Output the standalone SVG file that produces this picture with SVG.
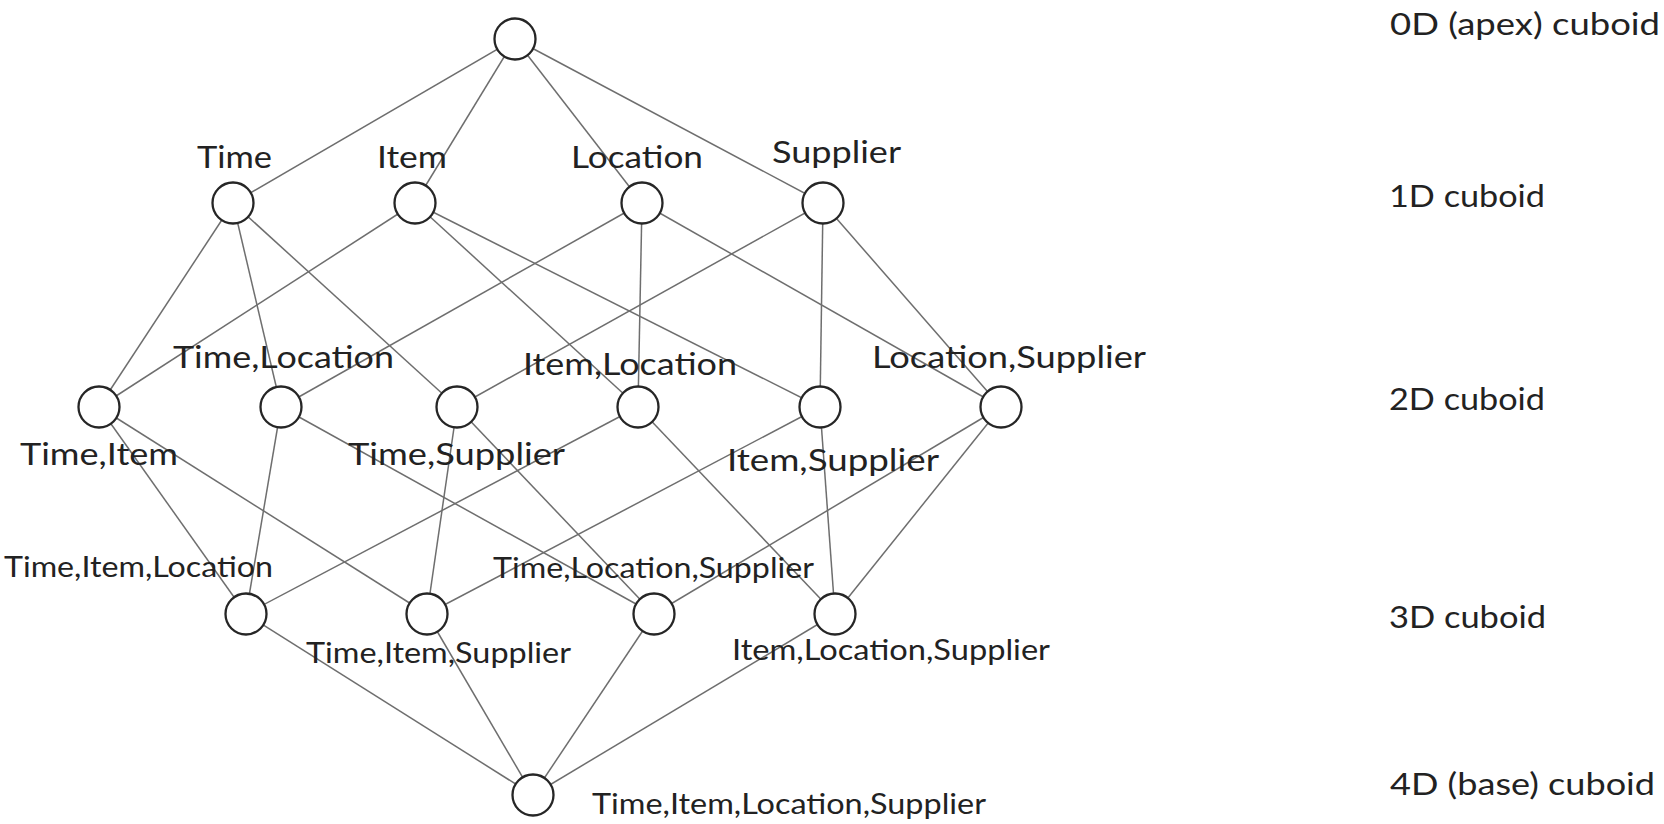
<svg xmlns="http://www.w3.org/2000/svg" width="1664" height="824" viewBox="0 0 1664 824">
<style>
.e{stroke:#6e6e6e;stroke-width:1.5;fill:none}
.n{fill:#fff;stroke:#262626;stroke-width:2.3}
.t{font-family:Lato,"Open Sans",sans-serif;fill:#222;font-size:31px}
.s{font-size:28px}
</style>
<rect width="1664" height="824" fill="#fff"/>
<g id="connectors" class="e">
<line x1="515" y1="39" x2="233" y2="203"/>
<line x1="515" y1="39" x2="415" y2="203"/>
<line x1="515" y1="39" x2="642" y2="203"/>
<line x1="515" y1="39" x2="823" y2="203"/>
<line x1="233" y1="203" x2="99" y2="407"/>
<line x1="233" y1="203" x2="281" y2="407"/>
<line x1="233" y1="203" x2="457" y2="407"/>
<line x1="415" y1="203" x2="99" y2="407"/>
<line x1="415" y1="203" x2="638" y2="407"/>
<line x1="415" y1="203" x2="820" y2="407"/>
<line x1="642" y1="203" x2="281" y2="407"/>
<line x1="642" y1="203" x2="638" y2="407"/>
<line x1="642" y1="203" x2="1001" y2="407"/>
<line x1="823" y1="203" x2="457" y2="407"/>
<line x1="823" y1="203" x2="820" y2="407"/>
<line x1="823" y1="203" x2="1001" y2="407"/>
<line x1="246" y1="614" x2="99" y2="407"/>
<line x1="246" y1="614" x2="281" y2="407"/>
<line x1="246" y1="614" x2="638" y2="407"/>
<line x1="427" y1="614" x2="99" y2="407"/>
<line x1="427" y1="614" x2="457" y2="407"/>
<line x1="427" y1="614" x2="820" y2="407"/>
<line x1="654" y1="614" x2="281" y2="407"/>
<line x1="654" y1="614" x2="457" y2="407"/>
<line x1="654" y1="614" x2="1001" y2="407"/>
<line x1="835" y1="614" x2="638" y2="407"/>
<line x1="835" y1="614" x2="820" y2="407"/>
<line x1="835" y1="614" x2="1001" y2="407"/>
<line x1="533" y1="795" x2="246" y2="614"/>
<line x1="533" y1="795" x2="427" y2="614"/>
<line x1="533" y1="795" x2="654" y2="614"/>
<line x1="533" y1="795" x2="835" y2="614"/>
</g>
<g id="apex"><circle class="n" cx="515" cy="39" r="20.5"/></g>
<g id="time"><circle class="n" cx="233" cy="203" r="20.5"/><text class="t" x="197" y="168" textLength="75" lengthAdjust="spacingAndGlyphs">Time</text></g>
<g id="item"><circle class="n" cx="415" cy="203" r="20.5"/><text class="t" x="377" y="168" textLength="70" lengthAdjust="spacingAndGlyphs">Item</text></g>
<g id="location"><circle class="n" cx="642" cy="203" r="20.5"/><text class="t" x="571" y="168" textLength="132" lengthAdjust="spacingAndGlyphs">Location</text></g>
<g id="supplier"><circle class="n" cx="823" cy="203" r="20.5"/><text class="t" x="772" y="163" textLength="129" lengthAdjust="spacingAndGlyphs">Supplier</text></g>
<g id="time-item"><circle class="n" cx="99" cy="407" r="20.5"/><text class="t" x="20" y="465" textLength="158" lengthAdjust="spacingAndGlyphs">Time,Item</text></g>
<g id="time-location"><circle class="n" cx="281" cy="407" r="20.5"/><text class="t" x="173" y="368" textLength="221" lengthAdjust="spacingAndGlyphs">Time,Location</text></g>
<g id="time-supplier"><circle class="n" cx="457" cy="407" r="20.5"/><text class="t" x="348" y="465" textLength="217" lengthAdjust="spacingAndGlyphs">Time,Supplier</text></g>
<g id="item-location"><circle class="n" cx="638" cy="407" r="20.5"/><text class="t" x="523" y="375" textLength="214" lengthAdjust="spacingAndGlyphs">Item,Location</text></g>
<g id="item-supplier"><circle class="n" cx="820" cy="407" r="20.5"/><text class="t" x="727" y="471" textLength="212" lengthAdjust="spacingAndGlyphs">Item,Supplier</text></g>
<g id="location-supplier"><circle class="n" cx="1001" cy="407" r="20.5"/><text class="t" x="872" y="368" textLength="274" lengthAdjust="spacingAndGlyphs">Location,Supplier</text></g>
<g id="time-item-location"><circle class="n" cx="246" cy="614" r="20.5"/><text class="t s" x="4" y="577" textLength="269" lengthAdjust="spacingAndGlyphs">Time,Item,Location</text></g>
<g id="time-item-supplier"><circle class="n" cx="427" cy="614" r="20.5"/><text class="t s" x="306" y="663" textLength="265" lengthAdjust="spacingAndGlyphs">Time,Item,Supplier</text></g>
<g id="time-location-supplier"><circle class="n" cx="654" cy="614" r="20.5"/><text class="t s" x="493" y="578" textLength="321" lengthAdjust="spacingAndGlyphs">Time,Location,Supplier</text></g>
<g id="item-location-supplier"><circle class="n" cx="835" cy="614" r="20.5"/><text class="t s" x="732" y="660" textLength="318" lengthAdjust="spacingAndGlyphs">Item,Location,Supplier</text></g>
<g id="base"><circle class="n" cx="533" cy="795" r="20.5"/><text class="t s" x="592" y="814" textLength="394" lengthAdjust="spacingAndGlyphs">Time,Item,Location,Supplier</text></g>
<g id="levels">
<text class="t" x="1390" y="35" textLength="270" lengthAdjust="spacingAndGlyphs">0D (apex) cuboid</text>
<text class="t" x="1389" y="207" textLength="156" lengthAdjust="spacingAndGlyphs">1D cuboid</text>
<text class="t" x="1389" y="410" textLength="156" lengthAdjust="spacingAndGlyphs">2D cuboid</text>
<text class="t" x="1389" y="628" textLength="157" lengthAdjust="spacingAndGlyphs">3D cuboid</text>
<text class="t" x="1390" y="795" textLength="265" lengthAdjust="spacingAndGlyphs">4D (base) cuboid</text>
</g>
</svg>
